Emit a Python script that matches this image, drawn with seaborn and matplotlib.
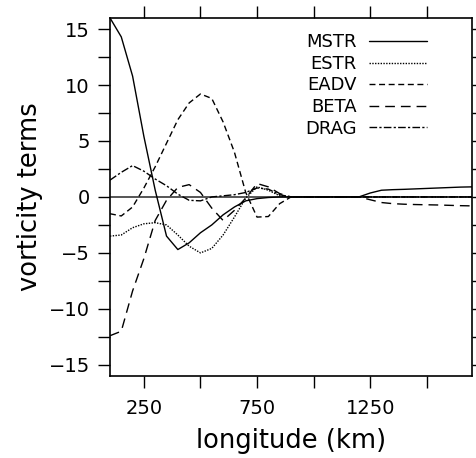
import numpy as np
import matplotlib
matplotlib.use("Agg")
import matplotlib.pyplot as plt
from matplotlib.ticker import MultipleLocator, FixedLocator
import seaborn as sns

# === Data (km, vorticity terms) ===
longitude = list(range(100, 1701, 50))

mstr = [16.0, 14.3, 10.8, 5.4, 0.6, -3.5, -4.7, -4.1, -3.2, -2.5, -1.6,
        -0.9, -0.35, -0.15, -0.05, 0.0, 0.0, 0.0, 0.0, 0.0, 0.0, 0.0, 0.0,
        0.35, 0.6, 0.65, 0.68, 0.72, 0.76, 0.8, 0.84, 0.88, 0.9]
estr = [-3.5, -3.4, -2.75, -2.4, -2.3, -2.5, -3.4, -4.4, -5.0, -4.6, -3.4,
        -1.8, -0.1, 0.9, 0.6, 0.1, 0.0, 0.0, 0.0, 0.0, 0.0, 0.0, 0.0,
        0.0, 0.0, 0.0, 0.0, 0.0, 0.0, 0.0, 0.0, 0.0, 0.0]
eadv = [-1.5, -1.7, -0.9, 0.8, 2.7, 4.8, 6.9, 8.4, 9.2, 8.8, 6.7,
        4.0, 0.4, -1.8, -1.75, -0.6, 0.0, 0.0, 0.0, 0.0, 0.0, 0.0, 0.0,
        0.0, 0.0, 0.0, 0.0, 0.0, 0.0, 0.0, 0.0, 0.0, 0.0]
beta = [-12.4, -12.0, -8.4, -5.5, -2.1, -0.3, 0.85, 1.1, 0.4, -1.0, -2.1,
        -1.2, -0.1, 1.2, 0.9, 0.3, 0.0, 0.0, 0.0, 0.0, 0.0, 0.0, 0.0,
        -0.25, -0.5, -0.6, -0.65, -0.68, -0.7, -0.72, -0.75, -0.78, -0.8]
drag = [1.5, 2.2, 2.8, 2.3, 1.6, 1.0, 0.25, -0.3, -0.35, 0.0, 0.1,
        0.2, 0.4, 0.8, 0.7, 0.2, 0.0, 0.0, 0.0, 0.0, 0.0, 0.0, 0.0,
        0.0, 0.0, 0.0, 0.0, 0.0, 0.0, 0.0, 0.0, 0.0, 0.0]

names = ["MSTR", "ESTR", "EADV", "BETA", "DRAG"]
series = [mstr, estr, eadv, beta, drag]
styles = ["-", (0, (1, 1)), (0, (4.3, 2.6)), (0, (7, 4.3)), (0, (5.5, 1.6, 1.6, 1.6))]

# === Style ===
sns.set_style("ticks", {"text.color": "black", "axes.labelcolor": "black",
                        "xtick.color": "black", "ytick.color": "black"})
plt.rcParams["font.family"] = ["DejaVu Sans"]

fig = plt.figure(figsize=(4.76, 4.58), dpi=100)
ax = fig.add_axes([0.231, 0.179, 0.7606, 0.782])

ax.axhline(0, color="#555555", lw=1.4, zorder=1)
for name, vals, ls in zip(names, series, styles):
    sns.lineplot(x=longitude, y=vals, ax=ax, color="black", lw=1.0,
                 linestyle=ls, label=name)

ax.set_xlim(100, 1700)
ax.set_ylim(-16, 16)
ax.xaxis.set_major_locator(FixedLocator([250, 750, 1250]))
ax.xaxis.set_minor_locator(FixedLocator([500, 1000, 1500]))
ax.yaxis.set_major_locator(MultipleLocator(5))
ax.yaxis.set_minor_locator(MultipleLocator(2.5))
ax.tick_params(which="both", direction="out", length=8.5, width=1,
               top=True, right=True, labelsize=14, color="black",
               labelcolor="black")
ax.tick_params(axis="x", pad=8)
ax.tick_params(axis="y", pad=6)

for sp in ax.spines.values():
    sp.set_visible(True)
    sp.set_linewidth(1.2)
    sp.set_color("black")

ax.set_xlabel("longitude (km)", fontsize=18.5, labelpad=7, color="black")
ax.set_ylabel("vorticity terms", fontsize=18.5, labelpad=4, color="black")

handles, labels = ax.get_legend_handles_labels()
leg = ax.legend(handles, labels, loc="upper right", bbox_to_anchor=(0.876, 0.957),
                frameon=False, markerfirst=False, fontsize=13, handlelength=3.2,
                handletextpad=0.7, labelspacing=0.2, borderpad=0, borderaxespad=0)
for t in leg.get_texts():
    t.set_color("black")

plt.savefig("out.png", dpi=100)
